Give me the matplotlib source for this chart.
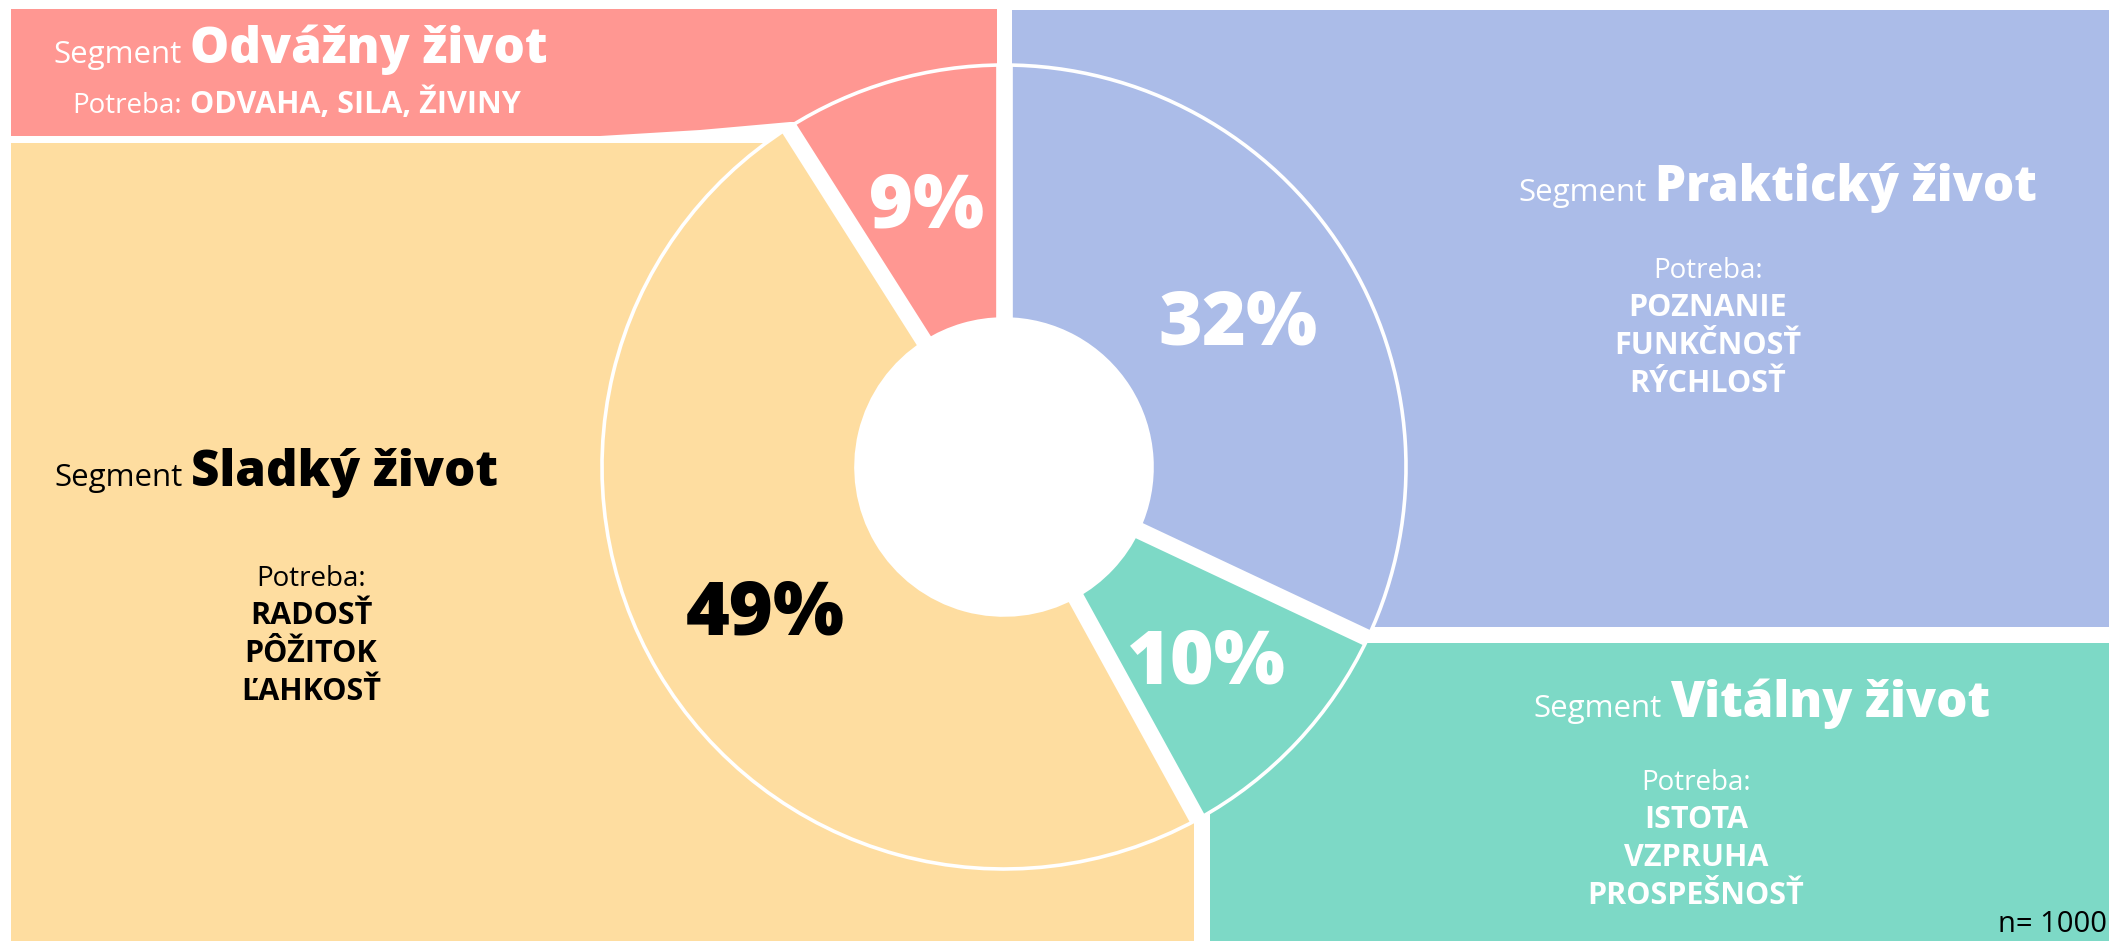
import matplotlib

matplotlib.use("Agg")
import matplotlib.pyplot as plt
import numpy as np
from matplotlib.patches import Circle, Polygon, Rectangle

W, H = 2109, 941
FONT = ["Open Sans", "DejaVu Sans"]

# data: segment share in % (n = 1000), clockwise from 12 o'clock
segments = ["Praktický život", "Vitálny život", "Sladký život", "Odvážny život"]
shares = [32, 10, 49, 9]
colors = ["#ABBCE8", "#7DD9C6", "#FEDDA0", "#FF9792"]
text_colors = ["white", "white", "black", "white"]
needs = [
    ["POZNANIE", "FUNKČNOSŤ", "RÝCHLOSŤ"],
    ["ISTOTA", "VZPRUHA", "PROSPEŠNOSŤ"],
    ["RADOSŤ", "PÔŽITOK", "ĽAHKOSŤ"],
    ["ODVAHA, SILA, ŽIVINY"],
]
n_resp = 1000

# layout (image pixels, y from top)
CX, CY = 1004, 467
R, R_IN = 402, 148
GAP = 12  # separator width in pt
title_at = [(1651, 201), (1666, 717), (187, 486), (186, 63)]
needs_at = [(1708, 278), (1696, 790), (311, 586), (186, 113)]
STEP = 38


def fy(y):
    return H - y


fig = plt.figure(figsize=(W / 100, H / 100), dpi=100)
ax = fig.add_axes([0, 0, 1, 1])

# background panels, one per segment
blue, green, yellow, red = colors
ax.add_patch(Rectangle((1012, fy(627)), W - 1012, 627 - 10, color=blue, lw=0))
ax.add_patch(Rectangle((1210, 0), W - 1210, H - 643, color=green, lw=0))
ax.add_patch(Rectangle((11, 0), 1194 - 11, H - 143, color=yellow, lw=0))
ax.add_patch(Polygon(
    [(11, fy(9)), (997, fy(9)), (997, fy(122)), (790, fy(122)),
     (700, fy(130)), (600, fy(136)), (11, fy(136))],
    closed=True, color=red, lw=0,
))

# donut
wedges, _, autotexts = ax.pie(
    shares, colors=colors, startangle=90, counterclock=False,
    radius=R, center=(CX, fy(CY)),
    autopct=lambda p: f"{p:.0f}%", pctdistance=0.69,
    wedgeprops=dict(width=R - R_IN, edgecolor="white", linewidth=2.6),
    textprops=dict(fontsize=54, fontweight="heavy", family=FONT),
)
for t, c in zip(autotexts, text_colors):
    t.set_color(c)
    t.set_zorder(5)
    x, y = t.get_position()
    t.set_position((x, y - 7))

bounds = 90 - 360 * np.cumsum([0] + shares[:-1]) / sum(shares)
for a in bounds:
    t = np.deg2rad(a)
    ax.plot([CX, CX + R * np.cos(t)], [fy(CY), fy(CY) + R * np.sin(t)],
            color="white", lw=GAP, solid_capstyle="butt", zorder=3)
ax.add_patch(Circle((CX, fy(CY)), R_IN + 1, color="white", lw=0, zorder=4))

# segment titles and needs
for name, items, tc, (sx, sy), (nx, ny) in zip(
    segments, needs, text_colors, title_at, needs_at
):
    ax.text(sx - 4, fy(sy), "Segment", ha="right", va="baseline",
            fontsize=22.5, color=tc, family=FONT)
    ax.text(sx + 4, fy(sy), name, ha="left", va="baseline",
            fontsize=35.5, fontweight="heavy", color=tc, family=FONT)
    if len(items) == 1:
        ax.text(nx - 4, fy(ny), "Potreba:", ha="right", va="baseline",
                fontsize=20, color=tc, family=FONT)
        ax.text(nx + 4, fy(ny), items[0], ha="left", va="baseline",
                fontsize=22, fontweight="bold", color=tc, family=FONT)
        continue
    ax.text(nx, fy(ny), "Potreba:", ha="center", va="baseline",
            fontsize=20, color=tc, family=FONT)
    for i, it in enumerate(items, 1):
        ax.text(nx, fy(ny + i * STEP), it, ha="center", va="baseline",
                fontsize=22, fontweight="bold", color=tc, family=FONT)

ax.text(W - 2, fy(932), f"n= {n_resp}", ha="right", va="baseline",
        fontsize=21, color="black", family=FONT)

ax.set_xlim(0, W)
ax.set_ylim(0, H)
ax.set_aspect("equal")
ax.axis("off")
fig.savefig("out.png", dpi=100, facecolor="white")
